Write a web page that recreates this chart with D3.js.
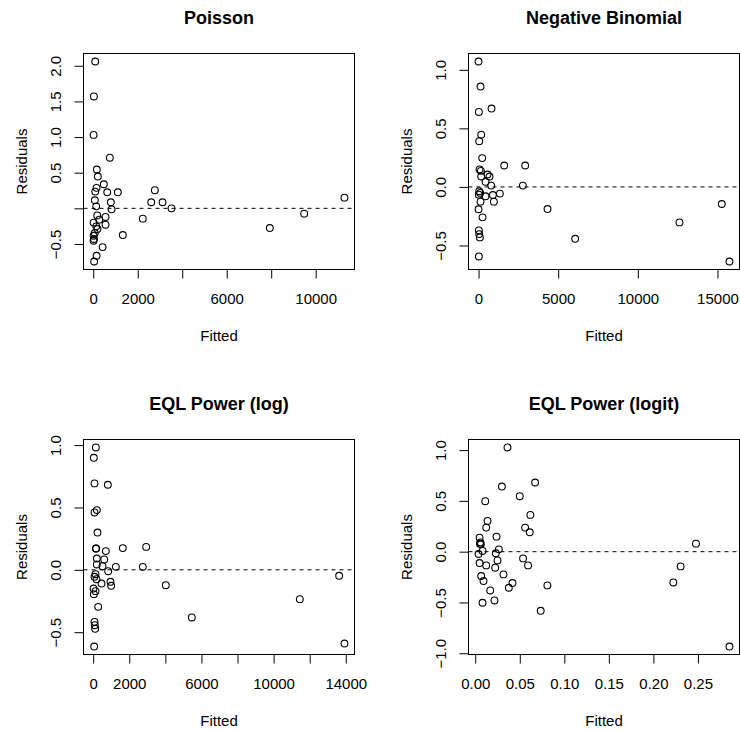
<!DOCTYPE html>
<html>
<head>
<meta charset="utf-8">
<script src="https://cdn.jsdelivr.net/npm/d3@7"></script>
<style>
  body { margin: 0; background: #fff; }
  svg text { font-family: "Liberation Sans", Arial, Helvetica, sans-serif; fill: #000; }
</style>
</head>
<body>
<div id="chart"></div>
<script>
// residuals vs fitted
const poissonFitted = [90, 30, 15, 746, 162, 207, 476, 148, 90, 629, 1106, 72, 791, 135, 823, 2769, 2607, 3115, 3519, 2229,
  180, 13, 553, 553, 270, 135, 190, 70, 15, 30, 15, 420, 1330, 150, 40, 7937, 9483, 11294];
const poissonResid = [2.06, 1.57, 1.03, 0.71, 0.545, 0.446, 0.338, 0.287, 0.235, 0.225, 0.225, 0.113, 0.085, 0.028, -0.014, 0.254, 0.085, 0.085, 0.0, -0.145,
  -0.099, -0.2, -0.121, -0.23, -0.159, -0.253, -0.29, -0.347, -0.385, -0.43, -0.455, -0.544, -0.375, -0.666, -0.746, -0.277, -0.075, 0.15];

const nbFitted = [0, 125, 21, 816, 167, 42, 230, 63, 146, 1611, 2929, 565, 690, 167, 439, 795, 2782, 42, 105, 21,
  439, 900, 1339, 962, 125, 0, 251, 4331, 6067, 12615, 15272, 15753, 21, 42, 84, 21];
const nbResid = [1.071, 0.857, 0.64, 0.669, 0.446, 0.391, 0.246, 0.149, 0.137, 0.183, 0.183, 0.106, 0.089, 0.089, 0.043, 0.011, 0.011, -0.037, -0.051, -0.066,
  -0.08, -0.069, -0.057, -0.126, -0.126, -0.191, -0.26, -0.189, -0.443, -0.303, -0.146, -0.637, -0.371, -0.403, -0.431, -0.594];

const eqlLogFitted = [148, 37, 74, 813, 203, 74, 240, 148, 166, 1644, 2937, 702, 203, 610, 203, 517, 1256, 2752, 831, 129,
  74, 185, 960, 997, 462, 20, 129, 37, 277, 4026, 5467, 11452, 13632, 13927, 74, 92, 111, 55];
const eqlLogResid = [0.981, 0.898, 0.693, 0.682, 0.479, 0.46, 0.299, 0.171, 0.171, 0.174, 0.184, 0.15, 0.091, 0.083, 0.043, 0.029, 0.024, 0.024, -0.011, -0.035,
  -0.056, -0.075, -0.096, -0.128, -0.11, -0.15, -0.171, -0.195, -0.297, -0.123, -0.382, -0.235, -0.048, -0.591, -0.417, -0.444, -0.473, -0.615];

const eqlLogitFitted = [0.0362, 0.0672, 0.0299, 0.05, 0.0112, 0.0619, 0.0138, 0.0123, 0.056, 0.0612, 0.0239, 0.0049, 0.0053, 0.0058, 0.0063, 0.2478, 0.0082, 0.0265, 0.0231, 0.0037,
  0.0537, 0.025, 0.0049, 0.0123, 0.0593, 0.2306, 0.0224, 0.0317, 0.0067, 0.0093, 0.2224, 0.0418, 0.0377, 0.081, 0.0168, 0.0216, 0.0082, 0.0735, 0.2854];
const eqlLogitResid = [1.026, 0.681, 0.641, 0.546, 0.497, 0.362, 0.303, 0.237, 0.237, 0.191, 0.148, 0.138, 0.079, 0.092, 0.072, 0.079, 0.007, 0.023, -0.016, -0.023,
  -0.066, -0.086, -0.112, -0.135, -0.135, -0.145, -0.158, -0.224, -0.24, -0.289, -0.303, -0.309, -0.355, -0.332, -0.382, -0.48, -0.503, -0.582, -0.934];

// ticks and labels (R drops labels that would overlap, kept as "")
const poissonXTicks = [0, 2000, 4000, 6000, 8000, 10000];
const poissonXLabels = ["0", "2000", "", "6000", "", "10000"];
const poissonYTicks = [-0.5, 0, 0.5, 1, 1.5, 2];
const poissonYLabels = ["\u22120.5", "", "0.5", "1.0", "1.5", "2.0"];

const nbXTicks = [0, 5000, 10000, 15000];
const nbXLabels = ["0", "5000", "10000", "15000"];
const nbYTicks = [-0.5, 0, 0.5, 1];
const nbYLabels = ["\u22120.5", "0.0", "0.5", "1.0"];

const logXTicks = [0, 2000, 4000, 6000, 8000, 10000, 12000, 14000];
const logXLabels = ["0", "2000", "", "6000", "", "10000", "", "14000"];
const logYTicks = [-0.5, 0, 0.5, 1];
const logYLabels = ["\u22120.5", "0.0", "0.5", "1.0"];

const logitXTicks = [0, 0.05, 0.1, 0.15, 0.2, 0.25];
const logitXLabels = ["0.00", "0.05", "0.10", "0.15", "0.20", "0.25"];
const logitYTicks = [-1, -0.5, 0, 0.5, 1];
const logitYLabels = ["\u22121.0", "\u22120.5", "0.0", "0.5", "1.0"];

const titles = ["Poisson", "Negative Binomial", "EQL Power (log)", "EQL Power (logit)"];

const svgWidth = 740;
const svgHeight = 731;

const svg = d3.select("#chart")
  .append("svg")
  .attr("width", svgWidth)
  .attr("height", svgHeight);

// R pads the data range by 4% on each side
function padded(values) {
  const [lo, hi] = d3.extent(values);
  const p = (hi - lo) * 0.04;
  return [lo - p, hi + p];
}

function drawPanel(box, title, fitted, resid, xTicks, xLabels, yTicks, yLabels) {
  const g = svg.append("g")
    .attr("transform", `translate(${box.left}, ${box.top})`);

  const x = d3.scaleLinear().domain(padded(fitted)).range([0, box.width]);
  const y = d3.scaleLinear().domain(padded(resid)).range([box.height, 0]);

  const xAxis = g.append("g")
    .attr("transform", `translate(0, ${box.height})`)
    .call(d3.axisBottom(x)
      .tickValues(xTicks)
      .tickFormat((d, i) => xLabels[i])
      .tickSize(9)
      .tickSizeOuter(0));
  xAxis.select(".domain").remove();
  xAxis.attr("font-size", 15).attr("font-family", null);
  xAxis.selectAll("line").attr("stroke", "#000");
  xAxis.selectAll("text").attr("y", 34).attr("dy", null);

  const yAxis = g.append("g")
    .call(d3.axisLeft(y)
      .tickValues(yTicks)
      .tickFormat((d, i) => yLabels[i])
      .tickSize(9)
      .tickSizeOuter(0));
  yAxis.select(".domain").remove();
  yAxis.attr("font-size", 15).attr("font-family", null);
  yAxis.selectAll("line").attr("stroke", "#000");
  yAxis.selectAll("text")
    .attr("transform", "rotate(-90)")
    .attr("x", 0)
    .attr("y", -23)
    .attr("dy", null)
    .attr("text-anchor", "middle");

  // reference line at zero
  g.append("line")
    .attr("x1", 0)
    .attr("x2", box.width)
    .attr("y1", y(0))
    .attr("y2", y(0))
    .attr("stroke", "#000")
    .attr("stroke-width", 1)
    .attr("stroke-dasharray", "4,4");

  g.selectAll("circle")
    .data(fitted.map((f, i) => [f, resid[i]]))
    .enter()
    .append("circle")
    .attr("cx", d => x(d[0]))
    .attr("cy", d => y(d[1]))
    .attr("r", 3.4)
    .attr("fill", "none")
    .attr("stroke", "#000")
    .attr("stroke-width", 1.1);

  g.append("rect")
    .attr("x", 0)
    .attr("y", 0)
    .attr("width", box.width)
    .attr("height", box.height)
    .attr("fill", "none")
    .attr("stroke", "#000")
    .attr("stroke-width", 1);

  g.append("text")
    .attr("x", box.width / 2)
    .attr("y", -30)
    .attr("text-anchor", "middle")
    .attr("font-size", 18)
    .attr("font-weight", "bold")
    .text(title);

  g.append("text")
    .attr("x", box.width / 2)
    .attr("y", box.height + 71)
    .attr("text-anchor", "middle")
    .attr("font-size", 15)
    .text("Fitted");

  g.append("text")
    .attr("transform", `translate(-57, ${box.height / 2}) rotate(-90)`)
    .attr("text-anchor", "middle")
    .attr("font-size", 15)
    .text("Residuals");
}

drawPanel({ left: 83.5, top: 53.5, width: 271, height: 216 }, titles[0],
  poissonFitted, poissonResid, poissonXTicks, poissonXLabels, poissonYTicks, poissonYLabels);
drawPanel({ left: 468.5, top: 53.5, width: 271, height: 216 }, titles[1],
  nbFitted, nbResid, nbXTicks, nbXLabels, nbYTicks, nbYLabels);
drawPanel({ left: 83.5, top: 439.5, width: 271, height: 215 }, titles[2],
  eqlLogFitted, eqlLogResid, logXTicks, logXLabels, logYTicks, logYLabels);
drawPanel({ left: 468.5, top: 439.5, width: 271, height: 215 }, titles[3],
  eqlLogitFitted, eqlLogitResid, logitXTicks, logitXLabels, logitYTicks, logitYLabels);
</script>
</body>
</html>
